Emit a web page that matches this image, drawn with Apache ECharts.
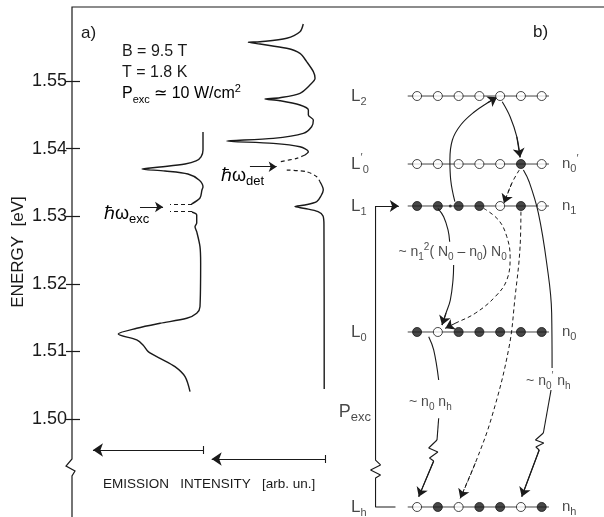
<!DOCTYPE html>
<html>
<head>
<meta charset="utf-8">
<script src="https://cdn.jsdelivr.net/npm/echarts@6/dist/echarts.min.js"></script>
<style>
  html, body { margin: 0; background: #fff; }
  #chart { width: 604px; height: 517px; }
</style>
</head>
<body>
<div id="chart"></div>
<script>
const INK = '#1a1a1a';
const FONT = 'Liberation Sans';

// energy axis
const eMin = 1.4855, eMax = 1.56095;
const energyTicks = [1.50, 1.51, 1.52, 1.53, 1.54, 1.55];

// spectrum excited at h-omega-exc (left trace), intensity in arb. un.
const excUpperE = [1.54246, 1.53979, 1.53876, 1.53817, 1.53772, 1.53728, 1.53698, 1.53669, 1.53624, 1.53536, 1.53432, 1.53388, 1.53269, 1.53180];
const excUpperI = [0, 0, 0.15, 0.53, 1.37, 3.28, 4.66, 2.9, 1.15, 0.3, 0, 0.08, 0.23, 0.88];
const excLowerE = [1.53062, 1.53018, 1.52899, 1.52845, 1.52771, 1.52549, 1.52308, 1.51661, 1.51564, 1.51490, 1.51416, 1.51342, 1.51257, 1.51169, 1.51095, 1.50996, 1.50898, 1.50774, 1.50626, 1.50404];
const excLowerI = [0.84, 0.48, 0.48, 0.61, 0.48, 0.23, 0.18, 0.23, 0.48, 1.24, 3.28, 5.06, 6.47, 5.06, 4.58, 4.18, 3.28, 2.14, 1.37, 0.99];
const laserE = [1.53180, 1.53067];
const laserI = [0.84, 2.52];

// spectrum detected at h-omega-det (right trace)
const detUpperE = [1.55843, 1.55729, 1.55632, 1.55581, 1.55573, 1.55547, 1.55484, 1.55410, 1.55286, 1.55138, 1.55040, 1.54941, 1.54818, 1.54753, 1.54734, 1.54709, 1.54645, 1.54571, 1.54497, 1.54423, 1.54324, 1.54226, 1.54152, 1.54112, 1.54078, 1.54028, 1.53954, 1.53905];
const detUpperI = [1.66, 1.91, 2.92, 4.96, 5.85, 4.96, 2.92, 1.91, 1.4, 0.89, 0.76, 1.15, 1.91, 3.44, 4.58, 3.44, 1.91, 1.27, 1.27, 0.89, 1.02, 1.66, 3.95, 7.5, 3.95, 1.91, 1.27, 1.53];
const detDashUpperE = [1.53905, 1.53856, 1.53806];
const detDashUpperI = [1.53, 2.16, 3.44];
const detDashLowerE = [1.53683, 1.53658, 1.53584, 1.53510];
const detDashLowerI = [2.92, 1.4, 0.63, 0.38];
const detLowerE = [1.53510, 1.53388, 1.53299, 1.53215, 1.53166, 1.53142, 1.53114, 1.53067, 1.53003, 1.52870, 1.50444];
const detLowerI = [0.38, 0.13, 0.31, 0.63, 1.53, 2.29, 1.53, 0.53, 0.15, 0.08, 0.06];

// level scheme (b): sites 0..6, level energies, occupation (1 = filled)
const sites = [0, 1, 2, 3, 4, 5, 6];
const levelE = [1.54778, 1.53772, 1.53151, 1.51287, 1.48698];
const levelText = ['{m|L}{s|2}', '{m|L}{p|′}{s|0}', '{m|L}{s|1}', '{m|L}{s|0}', '{m|L}{s|h}'];
const occText = [null, '{m|n}{s|0}{p|′}', '{m|n}{s|1}', '{m|n}{s|0}', '{m|n}{s|h}'];
const occupancy = [
  [0, 0, 0, 0, 0, 0, 0],
  [0, 0, 0, 0, 0, 1, 0],
  [1, 1, 1, 1, 0, 1, 0],
  [1, 0, 1, 1, 1, 1, 1],
  [0, 1, 0, 1, 1, 0, 1]
];

// transitions, [site, energy]
const pathUp = [[1.82, 1.53214], [1.62, 1.53536], [1.58, 1.53832], [1.7, 1.54127], [2.1, 1.54349], [2.75, 1.54542], [3.4, 1.54679], [3.85, 1.54760]];
const pathDown = [[4.1, 1.54694], [4.48, 1.54472], [4.8, 1.54176], [4.96, 1.53871]];
const pathTransfer = [[4.92, 1.53683], [4.56, 1.53487], [4.18, 1.53191]];
const pathLongA = [[5.12, 1.53683], [5.4, 1.53506], [5.84, 1.53047], [6.24, 1.52308], [6.48, 1.51568], [6.5, 1.50754]];
const pathLongB = [[6.45, 1.50429], [6.08, 1.49793]];
const zigLong = [[6.08, 1.49793], [5.7, 1.49689], [6.1, 1.49645], [5.72, 1.49586], [5.88, 1.49541]];
const tailLong = [[5.88, 1.49541], [5.04, 1.48851]];
const pathAugerA = [[1.0, 1.53117], [1.28, 1.52993], [1.49, 1.52796], [1.57, 1.52623]];
const pathAugerB = [[1.76, 1.52278], [1.73, 1.52056], [1.6, 1.51760], [1.39, 1.51564], [1.2, 1.51391]];
const pathDashBow = [[3.2, 1.53117], [3.92, 1.52944], [4.32, 1.52697], [4.48, 1.52401], [4.32, 1.52056], [3.76, 1.51809], [2.8, 1.51564], [1.84, 1.51416], [1.36, 1.51342]];
const pathDashLong = [[5.0, 1.53067], [4.96, 1.52549], [4.72, 1.51809], [4.42, 1.51050], [3.6, 1.50034], [2.8, 1.49345], [2.08, 1.48827]];
const pathNhA = [[0.56, 1.51217], [0.8, 1.51021], [1.04, 1.50577]];
const pathNhB = [[1.04, 1.50010], [0.96, 1.49689]];
const zigNh = [[0.96, 1.49689], [0.56, 1.49571], [1.0, 1.49512], [0.6, 1.49423], [0.8, 1.49379]];
const tailNh = [[0.8, 1.49379], [0.08, 1.48851]];
const bracket = [[-2.0, 1.53151], [-2.0, 1.49393], [-1.76, 1.49320], [-2.24, 1.49246], [-1.76, 1.49172], [-2.0, 1.49127], [-2.0, 1.48698], [-1.04, 1.48698]];
const bracketArrow = [[-2.0, 1.53151], [-0.88, 1.53151]];
const hopArrow = [[1.12, 1.53151], [1.42, 1.53151]];

const pairs = (xs, ys) => xs.map((x, i) => [x, ys[i]]);

const rich = (m, s) => ({
  m: { fontSize: m, lineHeight: m + 6, fontFamily: FONT, color: INK },
  s: { fontSize: s, lineHeight: s, verticalAlign: 'bottom', fontFamily: FONT, color: INK },
  p: { fontSize: s, lineHeight: s, verticalAlign: 'top', fontFamily: FONT, color: INK }
});

// axis indices: x 0/y 0 left trace, x 1/y 2 right trace, x 2/y 3 scheme
const series = [];
function line(xi, yi, pts, opt) {
  series.push(Object.assign({
    type: 'line', xAxisIndex: xi, yAxisIndex: yi, data: pts,
    showSymbol: false, symbol: 'none', smooth: 0.3, silent: true, clip: false, z: 3,
    lineStyle: { color: INK, width: 1.4 }
  }, opt || {}));
}
function arrows(xi, yi, segs, opt) {
  series.push(Object.assign({
    type: 'lines', coordinateSystem: 'cartesian2d', xAxisIndex: xi, yAxisIndex: yi,
    symbol: ['none', 'arrow'], symbolSize: 9, silent: true, z: 4,
    lineStyle: { color: INK, width: 1.1, opacity: 1, curveness: 0 },
    data: segs.map(c => ({ coords: c }))
  }, opt || {}));
}

// (a) spectra
line(0, 0, pairs(excUpperI, excUpperE));
line(0, 0, pairs(excLowerI, excLowerE));
arrows(0, 0, laserE.map(e => [[laserI[0], e], [laserI[1], e]]),
  { symbol: 'none', lineStyle: { color: INK, width: 1.2, type: [4, 3], opacity: 1 } });
line(1, 2, pairs(detUpperI, detUpperE));
line(1, 2, pairs(detDashUpperI, detDashUpperE), { lineStyle: { color: INK, width: 1.2, type: [4, 3] } });
line(1, 2, pairs(detDashLowerI, detDashLowerE), { lineStyle: { color: INK, width: 1.2, type: [4, 3] } });
line(1, 2, pairs(detLowerI, detLowerE));

// h-omega markers and intensity arrows
arrows(0, 0, [[[4.81, 1.53136], [3.05, 1.53136]]], { symbolSize: 8 });
arrows(1, 2, [[[5.73, 1.53732], [3.69, 1.53732]]], { symbolSize: 8 });
arrows(0, 0, [[[0, 1.49541], [8.4, 1.49541]]], { symbolSize: 10 });
arrows(1, 2, [[[0, 1.49408], [8.65, 1.49408]]], { symbolSize: 10 });
arrows(0, 0, [[[0, 1.49600], [0, 1.49482]]], { symbol: 'none' });
arrows(1, 2, [[[0, 1.49467], [0, 1.49349]]], { symbol: 'none' });

// (b) levels and sites
levelE.forEach((e, k) => {
  line(2, 3, [[-0.45, e], [6.35, e]], { smooth: false, z: 2, lineStyle: { color: '#444', width: 1 } });
  series.push({
    type: 'scatter', xAxisIndex: 2, yAxisIndex: 3, symbolSize: 9, silent: true, z: 6,
    data: sites.map(i => ({
      value: [i, e],
      itemStyle: { color: occupancy[k][i] ? INK : '#fff', borderColor: INK, borderWidth: 1 }
    }))
  });
});
series.push({
  type: 'scatter', xAxisIndex: 2, yAxisIndex: 3, symbolSize: 3, silent: true, z: 6,
  itemStyle: { color: INK }, data: [[1.6, levelE[2]]]
});

const solid = { smooth: 0.4, lineStyle: { color: INK, width: 1.1 } };
const dashed = { smooth: 0.4, lineStyle: { color: INK, width: 1, type: [4, 3] } };
const straight = { smooth: false, lineStyle: { color: INK, width: 1.1 } };
[pathUp, pathDown, pathLongA, pathLongB, pathAugerA, pathAugerB, pathNhA, pathNhB].forEach(p => line(2, 3, p, solid));
[pathTransfer, pathDashBow, pathDashLong].forEach(p => line(2, 3, p, dashed));
[zigLong, tailLong, zigNh, tailNh, bracket].forEach(p => line(2, 3, p, straight));

const lastSeg = p => [p[p.length - 2], p[p.length - 1]];
arrows(2, 3, [lastSeg(pathUp), lastSeg(pathDown), tailLong, lastSeg(pathAugerB), tailNh, bracketArrow]);
arrows(2, 3, [lastSeg(pathTransfer), lastSeg(pathDashBow), lastSeg(pathDashLong)],
  { lineStyle: { color: INK, width: 1, type: [4, 3], opacity: 1 } });
arrows(2, 3, [hopArrow], { symbolSize: 7, lineStyle: { color: INK, width: 1, opacity: 0 } });

// labels of the scheme
const labelItems = [];
levelE.forEach((e, k) => {
  labelItems.push({ value: [-3.2, e], label: { formatter: levelText[k], position: 'right' } });
  if (occText[k]) labelItems.push({ value: [6.95, e], label: { formatter: occText[k], position: 'right', rich: rich(15, 11) } });
});
labelItems.push({ value: [1.71, 1.52470], label: { formatter: '{m|~ n}{s|1}{p|2}{m|( N}{s|0}{m| – n}{s|0}{m|) N}{s|0}', position: 'inside', rich: rich(14, 10) } });
labelItems.push({ value: [0.64, 1.50252], label: { formatter: '{m|~ n}{s|0}{m| n}{s|h}', position: 'inside', rich: rich(14, 10) } });
labelItems.push({ value: [6.32, 1.50562], label: { formatter: '{m|~ n}{s|0}{p|′}{m| n}{s|h}', position: 'inside', rich: rich(14, 10) } });
labelItems.push({ value: [-3.0, 1.50104], label: { formatter: '{m|P}{s|exc}', position: 'inside', rich: rich(18, 13) } });
series.push({
  type: 'scatter', xAxisIndex: 2, yAxisIndex: 3, symbolSize: 1, silent: true, z: 7,
  itemStyle: { color: 'rgba(0,0,0,0)' },
  label: { show: true, distance: 0, rich: rich(17, 11) },
  data: labelItems
});
// keeps the inner tick axis alive
series.push({ type: 'line', xAxisIndex: 3, yAxisIndex: 4, data: [] });

const hiddenX = (g, min, max, inverse) => ({ type: 'value', gridIndex: g, min: min, max: max, inverse: inverse, show: false });
const hiddenY = (g) => ({ type: 'value', gridIndex: g, min: eMin, max: eMax, show: false });

const chart = echarts.init(document.getElementById('chart'));
chart.setOption({
  animation: false,
  backgroundColor: '#fff',
  grid: [
    { left: 72, top: 7, width: 131, height: 510 },
    { left: 194, top: 7, width: 131, height: 510 },
    { left: 334, top: 7, width: 272, height: 510 },
    { left: 72, top: 7, width: 20, height: 510 }
  ],
  xAxis: [
    hiddenX(0, 0, 10, true),
    hiddenX(1, 0, 10, true),
    hiddenX(2, -4, 9, false),
    hiddenX(3, 0, 1, false)
  ],
  yAxis: [
    {
      type: 'value', gridIndex: 0, min: eMin, max: eMax, position: 'left',
      axisLine: { show: false, onZero: false }, splitLine: { show: false },
      axisTick: { show: true, customValues: energyTicks, length: 6, lineStyle: { color: INK, width: 1.2 } },
      axisLabel: {
        show: true, customValues: energyTicks, margin: 5,
        formatter: v => v.toFixed(2), color: INK, fontSize: 18, fontFamily: FONT
      }
    },
    hiddenY(0),
    hiddenY(1),
    hiddenY(2),
    {
      type: 'value', gridIndex: 3, min: eMin, max: eMax, position: 'left',
      axisLine: { show: false, onZero: false }, splitLine: { show: false }, axisLabel: { show: false },
      axisTick: { show: true, inside: true, customValues: energyTicks, length: 8, lineStyle: { color: INK, width: 1.2 } }
    }
  ],
  graphic: [
    { type: 'polyline', silent: true, shape: { points: [[604, 7], [72, 7], [72, 459], [66, 466], [75, 471], [72, 476], [72, 517]] },
      style: { stroke: INK, lineWidth: 1.2, fill: null } },
    { type: 'text', x: 18, y: 252, rotation: Math.PI / 2, silent: true,
      style: { text: 'ENERGY  [eV]', fontSize: 17, fontFamily: FONT, fill: INK, textAlign: 'center', textVerticalAlign: 'middle' } },
    { type: 'text', x: 81, y: 33, silent: true,
      style: { text: 'a)', fontSize: 17, fontFamily: FONT, fill: INK, textVerticalAlign: 'middle' } },
    { type: 'text', x: 533, y: 32, silent: true,
      style: { text: 'b)', fontSize: 17, fontFamily: FONT, fill: INK, textVerticalAlign: 'middle' } },
    { type: 'text', x: 122, y: 52, silent: true,
      style: { text: 'B = 9.5 T', fontSize: 16, fontFamily: FONT, fill: INK, textVerticalAlign: 'middle' } },
    { type: 'text', x: 122, y: 73, silent: true,
      style: { text: 'T = 1.8 K', fontSize: 16, fontFamily: FONT, fill: INK, textVerticalAlign: 'middle' } },
    { type: 'text', x: 122, y: 94, silent: true,
      style: { text: '{m|P}{s|exc}{m| ≃ 10 W/cm}{p|2}', rich: rich(16, 11), textVerticalAlign: 'middle' } },
    { type: 'text', x: 104, y: 214, silent: true,
      style: { text: '{m|ℏω}{s|exc}', rich: rich(18, 13), textVerticalAlign: 'middle' } },
    { type: 'text', x: 221, y: 176, silent: true,
      style: { text: '{m|ℏω}{s|det}', rich: rich(18, 13), textVerticalAlign: 'middle' } },
    { type: 'text', x: 103, y: 484, silent: true,
      style: { text: 'EMISSION   INTENSITY   [arb. un.]', fontSize: 13.5, fontFamily: FONT, fill: INK, textVerticalAlign: 'middle' } }
  ],
  series: series
});
</script>
</body>
</html>
